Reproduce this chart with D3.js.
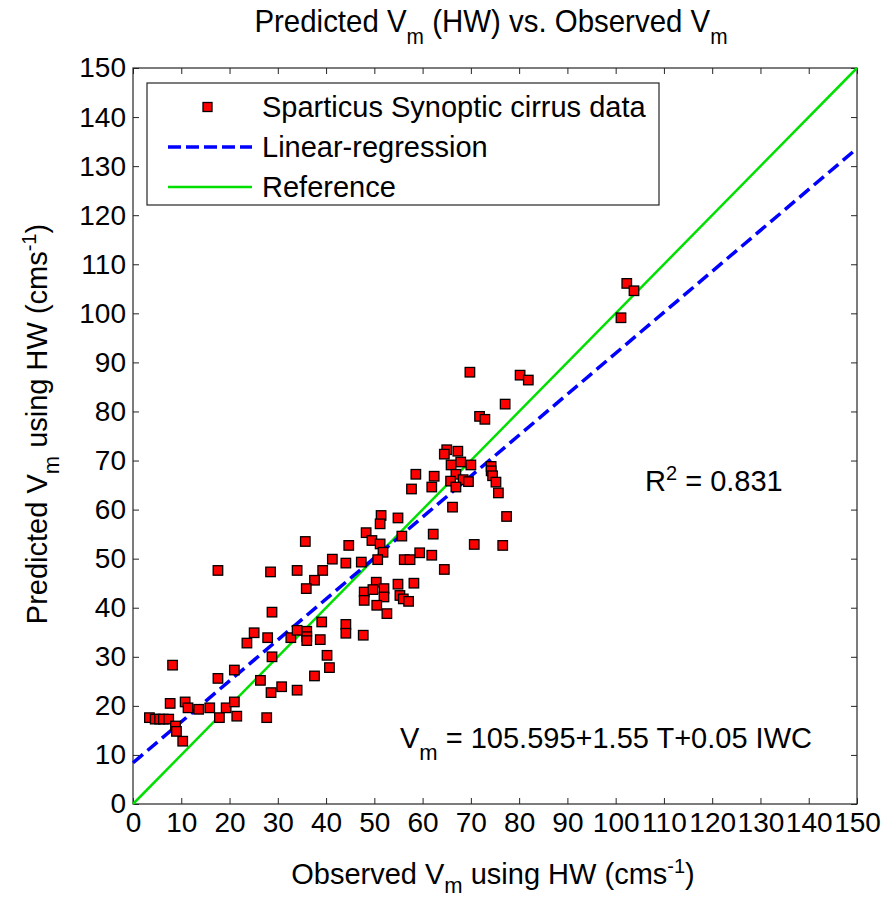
<!DOCTYPE html>
<html>
  <head>
    <meta charset="UTF-8">
    <style>
      body {
        margin: 0;
        background: white;
        font-family: "Liberation Sans", Arial, Helvetica, sans-serif;
      }

      .axis text {
        font-family: "Liberation Sans", Arial, sans-serif;
        font-size: 28px;
        fill: #000;
      }

      .axis .tick line {
        stroke: #262626;
      }

      .axis .domain {
        display: none;
      }

      .label {
        font-size: 29px;
        fill: #000;
      }

      .title {
        font-size: 31px;
      }
    </style>
    <script src="https://d3js.org/d3.v7.min.js"></script>
  </head>

  <body>
    <svg id="chart"></svg>

    <script type="text/javascript">
      // observed / predicted Vm (cm s-1)
      let observed = [
        3.4, 4.6, 5.5, 6.3, 7.4, 8.8, 9.0, 10.3, 7.7, 10.8, 11.4, 13.6, 15.9, 19.3, 21.0, 17.9, 21.5, 27.7,
        8.2, 17.6, 21.0, 26.4, 28.8, 30.8, 28.6, 34.0, 37.6, 23.6,
        51.4, 51.2, 54.9, 48.3, 49.5, 51.2, 51.8, 50.7, 35.7, 44.7, 41.3, 44.1, 47.3, 17.6, 28.5, 34.0, 39.3,
        37.6, 35.9, 50.4, 47.9, 49.7, 52.0, 47.9, 52.0, 50.5, 52.6, 54.9, 28.8, 39.1, 44.1, 44.1, 47.7, 25.1,
        27.9, 32.7, 34.0, 36.0, 36.0, 36.0, 38.8, 40.2, 40.7,
        65.0, 64.5, 67.3, 65.9, 67.9, 70.0, 58.6, 62.4, 66.9, 65.8, 68.4, 69.5, 57.7, 61.9, 66.9, 74.2, 74.2,
        74.5, 75.2, 75.7, 66.2, 77.4, 62.2, 55.7, 70.7, 76.6, 59.4, 61.9, 56.2, 57.4, 64.5, 58.2, 55.3, 56.0, 57.1,
        69.8, 80.2, 81.9, 77.1, 71.8, 72.9,
        102.3, 103.8, 101.1
      ]
      let predicted = [
        17.6, 17.3, 17.3, 17.3, 17.3, 15.9, 14.8, 12.8, 20.5, 20.8, 19.6, 19.3, 19.6, 19.6, 20.8, 17.6, 17.9, 17.6,
        28.3, 25.6, 27.3, 25.2, 30.0, 23.9, 22.7, 23.2, 26.1, 32.8,
        58.8, 57.1, 58.3, 55.3, 53.7, 53.0, 51.3, 49.8, 53.5, 52.7, 49.9, 49.1, 49.3, 47.6, 47.3, 47.6, 47.6,
        45.6, 43.9, 45.2, 43.2, 43.7, 43.9, 41.5, 42.2, 40.5, 38.8, 44.8, 39.1, 37.1, 36.6, 34.8, 34.4, 34.9,
        33.9, 33.9, 35.4, 35.2, 34.1, 33.3, 33.5, 30.3, 27.8,
        72.2, 71.3, 71.9, 69.1, 69.7, 69.1, 67.2, 66.8, 67.2, 65.8, 66.1, 65.7, 64.2, 64.6, 64.6, 68.8, 67.9,
        66.9, 65.6, 63.4, 60.5, 58.6, 55.0, 54.6, 52.9, 52.7, 51.2, 50.7, 49.8, 49.8, 47.8, 45.0, 42.5, 41.8, 41.3,
        88.0, 87.4, 86.4, 81.5, 79.0, 78.4,
        106.1, 104.6, 99.1
      ]

      let regressionX = [0, 150]
      let regressionY = [8.4, 133.6]
      let referenceX = [0, 150]
      let referenceY = [0, 150]

      let xTicks = [0, 10, 20, 30, 40, 50, 60, 70, 80, 90, 100, 110, 120, 130, 140, 150]
      let yTicks = [0, 10, 20, 30, 40, 50, 60, 70, 80, 90, 100, 110, 120, 130, 140, 150]

      let legendLabels = ['Sparticus Synoptic cirrus data', 'Linear-regression', 'Reference']
      let rSquared = '0.831'
      let equationText = ' = 105.595+1.55 T+0.05 IWC'

      function getChartConfig() {
        let width = 883
        let height = 902
        let margin = { top: 68, bottom: 98, left: 133, right: 26 }
        let bodyWidth = width - margin.left - margin.right
        let bodyHeight = height - margin.top - margin.bottom

        let container = d3.select('#chart')
          .attr('width', width)
          .attr('height', height)

        return { width, height, margin, bodyWidth, bodyHeight, container }
      }

      function getChartScales(config) {
        let xScale = d3.scaleLinear()
          .domain([0, 150])
          .range([0, config.bodyWidth])

        let yScale = d3.scaleLinear()
          .domain([0, 150])
          .range([config.bodyHeight, 0])

        return { xScale, yScale }
      }

      function drawAxes(scales, config) {
        let g = config.container.append('g')
          .attr('transform', `translate(${config.margin.left},${config.margin.top})`)

        g.append('g')
          .attr('class', 'axis')
          .attr('transform', `translate(0,${config.bodyHeight})`)
          .call(d3.axisBottom(scales.xScale).tickValues(xTicks).tickSize(-6).tickPadding(8))

        g.append('g')
          .attr('class', 'axis')
          .call(d3.axisTop(scales.xScale).tickValues(xTicks).tickSize(-6).tickFormat(''))

        g.append('g')
          .attr('class', 'axis')
          .call(d3.axisLeft(scales.yScale).tickValues(yTicks).tickSize(-6).tickPadding(7))

        g.append('g')
          .attr('class', 'axis')
          .attr('transform', `translate(${config.bodyWidth},0)`)
          .call(d3.axisRight(scales.yScale).tickValues(yTicks).tickSize(-6).tickFormat(''))

        g.append('rect')
          .attr('width', config.bodyWidth)
          .attr('height', config.bodyHeight)
          .attr('fill', 'none')
          .attr('stroke', '#262626')
          .attr('stroke-width', 1.2)

        return g
      }

      function drawLines(g, scales) {
        let line = d3.line()
          .x(d => scales.xScale(d[0]))
          .y(d => scales.yScale(d[1]))

        g.append('path')
          .datum(d3.zip(referenceX, referenceY))
          .attr('d', line)
          .attr('fill', 'none')
          .attr('stroke', '#00e000')
          .attr('stroke-width', 2.5)

        g.append('path')
          .datum(d3.zip(regressionX, regressionY))
          .attr('d', line)
          .attr('fill', 'none')
          .attr('stroke', '#0000ff')
          .attr('stroke-width', 3.5)
          .attr('stroke-dasharray', '13 6')
      }

      function drawPoints(g, scales) {
        let size = 9.5
        g.append('g')
          .selectAll('rect')
          .data(d3.zip(observed, predicted))
          .enter()
          .append('rect')
          .attr('x', d => scales.xScale(d[0]) - size / 2)
          .attr('y', d => scales.yScale(d[1]) - size / 2)
          .attr('width', size)
          .attr('height', size)
          .attr('fill', '#ff0000')
          .attr('stroke', '#000')
          .attr('stroke-width', 1.3)
      }

      function drawLegend(g) {
        let legend = g.append('g')
          .attr('transform', 'translate(14,15)')

        legend.append('rect')
          .attr('width', 512)
          .attr('height', 122)
          .attr('fill', 'white')
          .attr('stroke', '#262626')
          .attr('stroke-width', 1.2)

        let rows = legend.selectAll('.entry')
          .data(legendLabels)
          .enter()
          .append('g')
          .attr('class', 'entry')
          .attr('transform', (d, i) => `translate(0,${24 + i * 40})`)

        rows.append('text')
          .attr('class', 'label')
          .attr('x', 115)
          .attr('y', 10)
          .text(d => d)

        rows.filter((d, i) => i === 0)
          .append('rect')
          .attr('x', 56)
          .attr('y', -4.5)
          .attr('width', 9)
          .attr('height', 9)
          .attr('fill', '#ff0000')
          .attr('stroke', '#000')
          .attr('stroke-width', 1.3)

        rows.filter((d, i) => i === 1)
          .append('line')
          .attr('x1', 21).attr('x2', 105)
          .attr('stroke', '#0000ff')
          .attr('stroke-width', 3.5)
          .attr('stroke-dasharray', '13 5')

        rows.filter((d, i) => i === 2)
          .append('line')
          .attr('x1', 21).attr('x2', 105)
          .attr('stroke', '#00e000')
          .attr('stroke-width', 2.5)
      }

      // text with a subscript / superscript written as [text, shift] parts
      function addParts(textSel, parts) {
        let prev = 0
        parts.forEach(p => {
          let t = textSel.append('tspan').attr('dy', p[1] - prev).text(p[0])
          if (p[1] !== 0) t.attr('font-size', p[1] > 0 ? 22 : 20)
          prev = p[1]
        })
      }

      function drawTexts(g, config) {
        let svg = config.container

        let title = svg.append('g')
          .attr('transform', `translate(${config.margin.left + config.bodyWidth / 2 - 4},32) scale(0.95,1)`)
          .append('text')
          .attr('class', 'label title')
          .attr('text-anchor', 'middle')
        addParts(title, [['Predicted V', 0], ['m', 12], [' (HW) vs. Observed V', 0], ['m', 12]])

        let xLabel = svg.append('text')
          .attr('class', 'label')
          .attr('x', config.margin.left + config.bodyWidth / 2 - 2)
          .attr('y', 884)
          .attr('text-anchor', 'middle')
        addParts(xLabel, [['Observed V', 0], ['m', 9], [' using HW (cms', 0], ['-1', -11], [')', 0]])

        let yLabel = svg.append('text')
          .attr('class', 'label')
          .attr('transform', `translate(47,424) rotate(-90)`)
          .attr('text-anchor', 'middle')
        addParts(yLabel, [['Predicted V', 0], ['m', 12], [' using HW (cms', 0], ['-1', -11], [')', 0]])

        let r2 = g.append('text')
          .attr('class', 'label')
          .attr('x', 512)
          .attr('y', 423)
        addParts(r2, [['R', 0], ['2', -11], [' = ' + rSquared, 0]])

        let eq = g.append('text')
          .attr('class', 'label')
          .attr('x', 267)
          .attr('y', 680)
        addParts(eq, [['V', 0], ['m', 12], [equationText, 0]])
      }

      function showData() {
        let config = getChartConfig()
        let scales = getChartScales(config)
        let g = drawAxes(scales, config)
        drawLines(g, scales)
        drawPoints(g, scales)
        drawLegend(g)
        drawTexts(g, config)
      }

      showData()
    </script>
  </body>
</html>
